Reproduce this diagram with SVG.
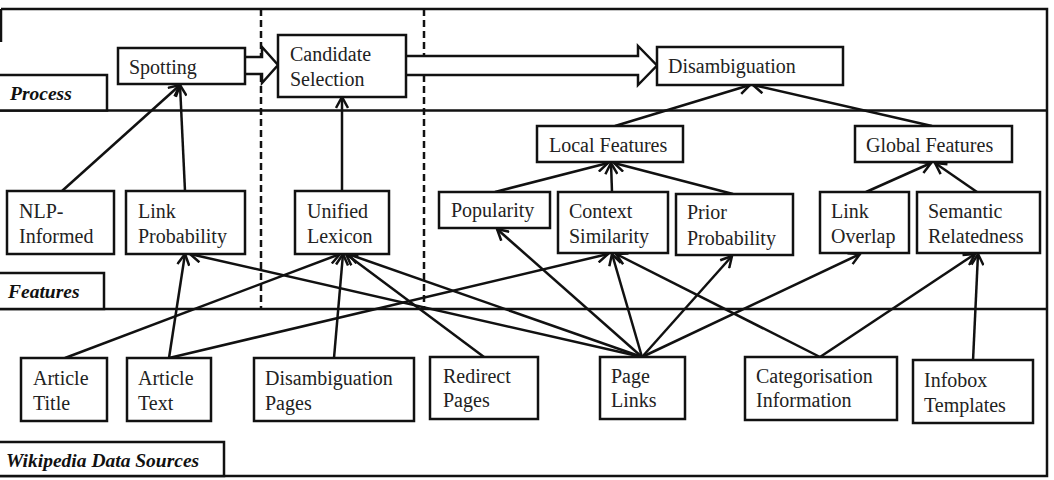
<svg xmlns="http://www.w3.org/2000/svg" width="1054" height="480" viewBox="0 0 1054 480">
<style>
.frame{fill:none;stroke:#111;stroke-width:2.5}
.box{fill:#fff;stroke:#111;stroke-width:2.5}
.dash{stroke:#111;stroke-width:2.5;stroke-dasharray:7,4;fill:none}
.t{font-family:"Liberation Serif","Times New Roman",serif;font-size:20px;fill:#222}
.lab{font-family:"Liberation Serif","Times New Roman",serif;font-size:19.5px;font-weight:bold;font-style:italic;fill:#111}
.c{stroke:#111;stroke-width:2.5;fill:none;marker-end:url(#ah)}
.hollow{fill:#fff;stroke:#111;stroke-width:2.5;stroke-linejoin:miter}
</style>
<defs>
<marker id="ah" viewBox="0 0 14 14" refX="12" refY="7" markerWidth="14" markerHeight="14" markerUnits="userSpaceOnUse" orient="auto">
<path d="M1,1 L12,7 L1,13" fill="none" stroke="#111" stroke-width="2.5"/>
</marker>
</defs>
<rect width="1054" height="480" fill="#fff"/>
<g id="frame">
<path class="frame" d="M1,9 H1047 V476 H0"/>
<path class="frame" d="M1,9 V42"/>
<path class="frame" d="M0,110.5 H1047 M0,309 H1047"/>
<path class="dash" d="M261,9 V309 M424,9 V309"/>
</g>
<g id="lane-process"><rect class="box" x="-2" y="75" width="109" height="35.5"/><text class="lab" x="10" y="100">Process</text></g>
<g id="lane-features"><rect class="box" x="-2" y="273" width="106" height="36"/><text class="lab" x="8" y="298">Features</text></g>
<g id="lane-sources"><rect class="box" x="-2" y="442" width="226" height="34"/><text class="lab" x="6" y="467">Wikipedia Data Sources</text></g>

<g id="connectors">
<path class="hollow" d="M245,57 H262 V47 L278,65 L262,83 V74 H245"/>
<path class="hollow" d="M406,56 H638 V46 L657,65.5 L638,85 V75 H406"/>
<line class="c" x1="62" y1="191" x2="180" y2="85"/>
<line class="c" x1="185" y1="191" x2="180" y2="85"/>
<line class="c" x1="342" y1="191" x2="342" y2="97"/>
<line class="c" x1="615" y1="126" x2="750" y2="85"/>
<line class="c" x1="932" y1="126" x2="753" y2="85"/>
<line class="c" x1="495" y1="192" x2="608" y2="163"/>
<line class="c" x1="612" y1="192" x2="611" y2="163"/>
<line class="c" x1="733" y1="194" x2="614" y2="163"/>
<line class="c" x1="866" y1="192" x2="931" y2="163"/>
<line class="c" x1="977" y1="192" x2="935" y2="163"/>
<line class="c" x1="65" y1="358" x2="340" y2="254"/>
<line class="c" x1="169" y1="358" x2="185" y2="254"/>
<line class="c" x1="169" y1="358" x2="608" y2="254"/>
<line class="c" x1="334" y1="358" x2="343" y2="254"/>
<line class="c" x1="484" y1="357" x2="346" y2="254"/>
<line class="c" x1="642" y1="357" x2="190" y2="254"/>
<line class="c" x1="642" y1="357" x2="348" y2="254"/>
<line class="c" x1="642" y1="357" x2="497" y2="229"/>
<line class="c" x1="642" y1="357" x2="612" y2="254"/>
<line class="c" x1="642" y1="357" x2="732" y2="256"/>
<line class="c" x1="642" y1="357" x2="860" y2="254"/>
<line class="c" x1="820" y1="357" x2="616" y2="254"/>
<line class="c" x1="820" y1="357" x2="975" y2="254"/>
<line class="c" x1="973" y1="361" x2="978" y2="254"/>
</g>

<g id="spotting"><rect class="box" x="118" y="48" width="127" height="36"/><text class="t" x="129" y="74">Spotting</text></g>
<g id="candidate-selection"><rect class="box" x="278" y="35" width="128" height="62"/><text class="t" x="290" y="61">Candidate</text><text class="t" x="290" y="86">Selection</text></g>
<g id="disambiguation"><rect class="box" x="657" y="47" width="186" height="38"/><text class="t" x="668" y="73">Disambiguation</text></g>

<g id="local-features"><rect class="box" x="537" y="126" width="146" height="36"/><text class="t" x="549" y="152">Local Features</text></g>
<g id="global-features"><rect class="box" x="855" y="126" width="157" height="36"/><text class="t" x="866" y="152">Global Features</text></g>
<g id="nlp-informed"><rect class="box" x="7" y="191" width="107" height="63"/><text class="t" x="19" y="218">NLP-</text><text class="t" x="19" y="243">Informed</text></g>
<g id="link-probability"><rect class="box" x="126" y="191" width="119" height="63"/><text class="t" x="138" y="218">Link</text><text class="t" x="138" y="243">Probability</text></g>
<g id="unified-lexicon"><rect class="box" x="295" y="191" width="94" height="63"/><text class="t" x="307" y="218">Unified</text><text class="t" x="307" y="243">Lexicon</text></g>
<g id="popularity"><rect class="box" x="439" y="192" width="111" height="36"/><text class="t" x="451" y="217">Popularity</text></g>
<g id="context-similarity"><rect class="box" x="558" y="192" width="110" height="61"/><text class="t" x="569" y="218">Context</text><text class="t" x="569" y="243">Similarity</text></g>
<g id="prior-probability"><rect class="box" x="676" y="194" width="117" height="61"/><text class="t" x="687" y="219">Prior</text><text class="t" x="687" y="245">Probability</text></g>
<g id="link-overlap"><rect class="box" x="820" y="192" width="89" height="61"/><text class="t" x="831" y="218">Link</text><text class="t" x="831" y="243">Overlap</text></g>
<g id="semantic-relatedness"><rect class="box" x="917" y="192" width="123" height="61"/><text class="t" x="928" y="218">Semantic</text><text class="t" x="928" y="243">Relatedness</text></g>

<g id="article-title"><rect class="box" x="21" y="358" width="86" height="63"/><text class="t" x="33" y="385">Article</text><text class="t" x="33" y="410">Title</text></g>
<g id="article-text"><rect class="box" x="127" y="358" width="84" height="63"/><text class="t" x="138" y="385">Article</text><text class="t" x="138" y="410">Text</text></g>
<g id="disambiguation-pages"><rect class="box" x="254" y="358" width="160" height="63"/><text class="t" x="265" y="385">Disambiguation</text><text class="t" x="265" y="410">Pages</text></g>
<g id="redirect-pages"><rect class="box" x="430" y="357" width="108" height="62"/><text class="t" x="443" y="383">Redirect</text><text class="t" x="443" y="407">Pages</text></g>
<g id="page-links"><rect class="box" x="600" y="357" width="85" height="62"/><text class="t" x="611" y="383">Page</text><text class="t" x="611" y="407">Links</text></g>
<g id="categorisation-information"><rect class="box" x="745" y="357" width="152" height="63"/><text class="t" x="756" y="383">Categorisation</text><text class="t" x="756" y="407">Information</text></g>
<g id="infobox-templates"><rect class="box" x="913" y="360" width="120" height="63"/><text class="t" x="924" y="387">Infobox</text><text class="t" x="924" y="412">Templates</text></g>
</svg>
